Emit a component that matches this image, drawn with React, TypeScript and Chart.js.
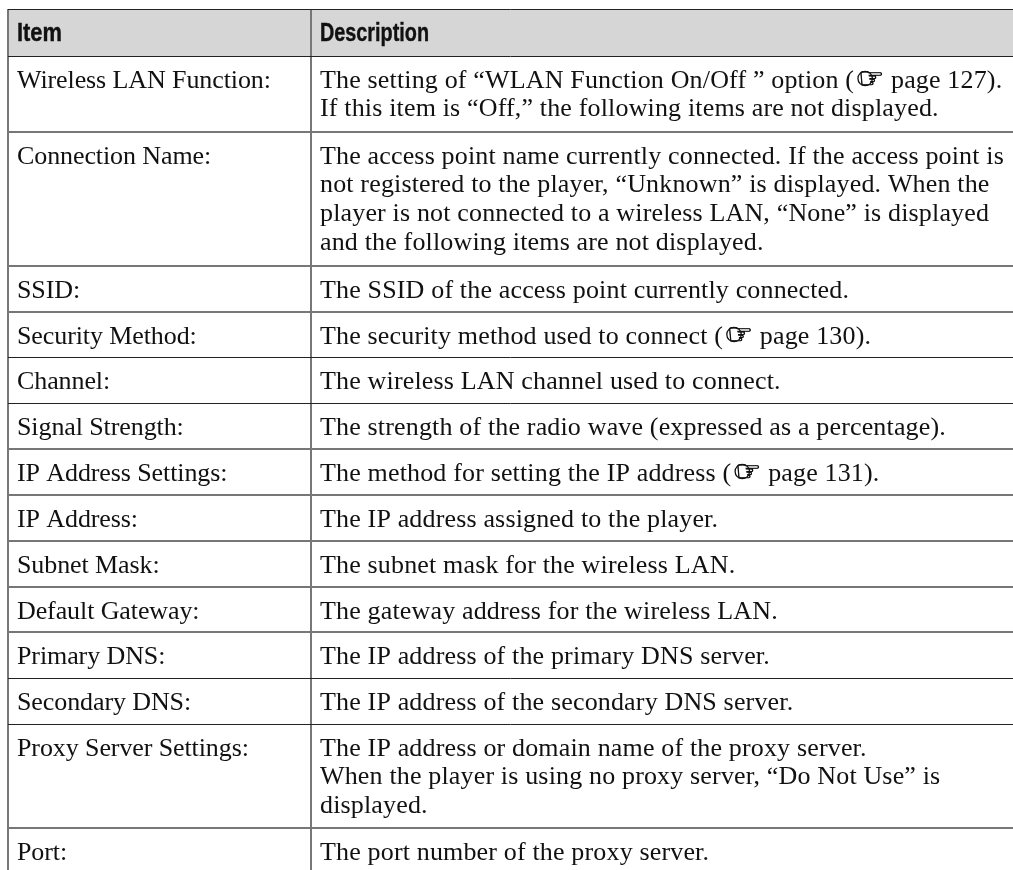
import React, { useEffect, useRef } from "react";
import { Chart, registerables } from "chart.js";

Chart.register(...registerables);

const headers = ["Item", "Description"];
const headerWidths = [45, 109];
const items = [
  "Wireless LAN Function:",
  "Connection Name:",
  "SSID:",
  "Security Method:",
  "Channel:",
  "Signal Strength:",
  "IP Address Settings:",
  "IP Address:",
  "Subnet Mask:",
  "Default Gateway:",
  "Primary DNS:",
  "Secondary DNS:",
  "Proxy Server Settings:",
  "Port:",
];
const descriptions = [
  ["The setting of “WLAN Function On/Off ” option (☞ page 127).", "If this item is “Off,” the following items are not displayed."],
  [
    "The access point name currently connected. If the access point is",
    "not registered to the player, “Unknown” is displayed. When the",
    "player is not connected to a wireless LAN, “None” is displayed",
    "and the following items are not displayed.",
  ],
  ["The SSID of the access point currently connected."],
  ["The security method used to connect (☞ page 130)."],
  ["The wireless LAN channel used to connect."],
  ["The strength of the radio wave (expressed as a percentage)."],
  ["The method for setting the IP address (☞ page 131)."],
  ["The IP address assigned to the player."],
  ["The subnet mask for the wireless LAN."],
  ["The gateway address for the wireless LAN."],
  ["The IP address of the primary DNS server."],
  ["The IP address of the secondary DNS server."],
  [
    "The IP address or domain name of the proxy server.",
    "When the player is using no proxy server, “Do Not Use” is",
    "displayed.",
  ],
  ["The port number of the proxy server."],
];
const rowEdges = [9, 56, 132, 266, 312, 357, 403, 449, 495, 541, 587, 632, 678, 724, 828];
const darkEdges = [9, 56, 357, 403, 678, 724];
const columnEdges = [8, 311];
const tableRight = 1013;
const tableBottom = 870;

const SERIF = '"Liberation Serif"';
const BODY_FONT = `26px ${SERIF}`;
const HAND_FONT = '29px "DejaVu Sans"';

const textPlugin = {
  id: "tableText",
  afterDraw(chart: any) {
    const { ctx, scales } = chart;
    const xItem = scales.x.getPixelForValue(17);
    const xDesc = scales.x.getPixelForValue(320);
    ctx.save();
    ctx.fillStyle = "#111";
    ctx.strokeStyle = "#111";
    ctx.textBaseline = "alphabetic";
    ctx.textAlign = "left";
    ctx.font = 'bold 25px "Liberation Sans"';
    ctx.lineWidth = 0.4;
    [xItem, xDesc].forEach((x, i) => {
      const y = scales.y.getPixelForValue(41);
      ctx.fillText(headers[i], x, y, headerWidths[i]);
      ctx.strokeText(headers[i], x, y, headerWidths[i]);
    });
    items.forEach((item, i) => {
      const top = rowEdges[i + 1];
      ctx.font = BODY_FONT;
      ctx.letterSpacing = "-0.1px";
      ctx.fillText(item, xItem, scales.y.getPixelForValue(top + 31.5));
      ctx.letterSpacing = "0.16px";
      descriptions[i].forEach((line, j) => {
        const y = scales.y.getPixelForValue(top + 31.5 + j * 28.7);
        let x = xDesc;
        line.split(/(☞)/).forEach((part) => {
          if (part === "☞") {
            x += 4;
            ctx.font = HAND_FONT;
            ctx.lineWidth = 0.7;
            ctx.fillText(part, x, y);
            ctx.strokeText(part, x, y);
            ctx.lineWidth = 1.3;
            ctx.beginPath();
            ctx.arc(x + 7, y - 9, 7.2, 0, Math.PI * 2);
            ctx.stroke();
          } else {
            ctx.font = BODY_FONT;
            ctx.fillText(part, x, y);
          }
          x += ctx.measureText(part).width;
        });
      });
    });
    ctx.restore();
  },
};

export default function App() {
  const ref = useRef<HTMLCanvasElement>(null);
  useEffect(() => {
    const chart = new Chart(ref.current as HTMLCanvasElement, {
      type: "line",
      data: {
        datasets: [
          {
            label: "Header",
            data: [
              { x: columnEdges[0], y: rowEdges[1] },
              { x: tableRight, y: rowEdges[1] },
            ],
            fill: { value: rowEdges[0] },
            backgroundColor: "#d6d6d6",
            borderWidth: 0,
            pointRadius: 0,
          },
        ],
      },
      options: {
        animation: false,
        responsive: false,
        layout: { padding: { left: 8, top: 9, right: 0, bottom: 0 } },
        plugins: { legend: { display: false }, tooltip: { enabled: false }, title: { display: false } },
        scales: {
          x: {
            type: "linear",
            min: columnEdges[0],
            max: tableRight,
            afterBuildTicks: (s: any) => {
              s.ticks = columnEdges.map((value) => ({ value }));
            },
            ticks: { display: false, autoSkip: false },
            border: { display: false },
            grid: { z: 1, drawTicks: false, color: "#777", lineWidth: 2 },
          },
          y: {
            type: "linear",
            reverse: true,
            min: rowEdges[0],
            max: tableBottom,
            afterBuildTicks: (s: any) => {
              s.ticks = rowEdges.map((value) => ({ value }));
            },
            ticks: { display: false, autoSkip: false },
            border: { display: false },
            grid: {
              z: 1,
              drawTicks: false,
              color: (c: any) => (darkEdges.includes(c.tick?.value) ? "#222" : "#777"),
              lineWidth: (c: any) => (darkEdges.includes(c.tick?.value) ? 1 : 2),
            },
          },
        },
      },
      plugins: [textPlugin],
    } as any);
    return () => chart.destroy();
  }, []);
  return (
    <div style={{ position: "absolute", left: 0, top: 0, width: 1013, height: 870, background: "#fff" }}>
      <canvas ref={ref} width={1013} height={870} style={{ display: "block" }} />
    </div>
  );
}
